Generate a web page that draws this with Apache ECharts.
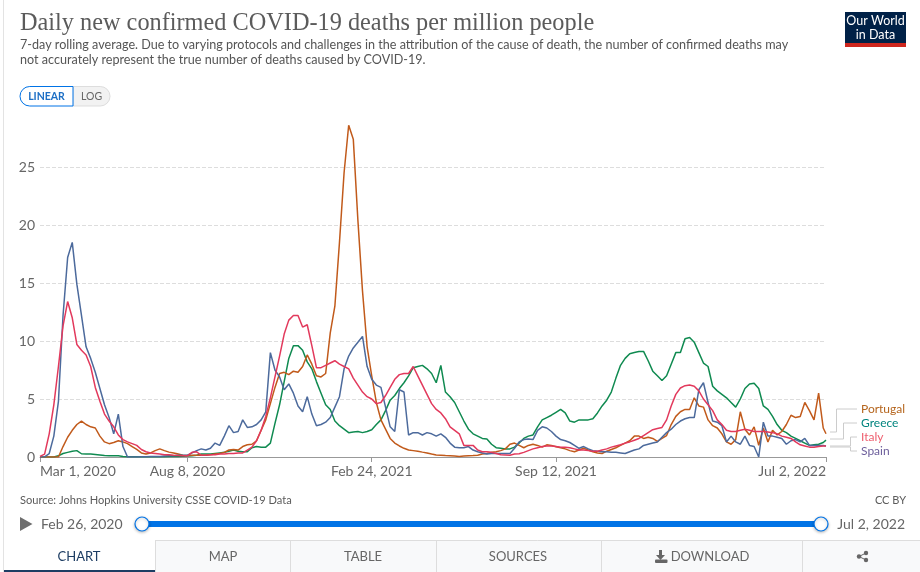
<!DOCTYPE html>
<html>
<head>
<meta charset="utf-8">
<title>Daily new confirmed COVID-19 deaths per million people</title>
<script src="https://cdn.jsdelivr.net/npm/echarts@6/dist/echarts.min.js"></script>
<style>
  html, body { margin: 0; padding: 0; background: #fff; }
  #chart { width: 920px; height: 572px; }
</style>
</head>
<body>
<div id="chart"></div>
<script>
// Values, one every 5 days from Mar 1 2020, the last one is Jul 2 2022
const stepDays = 5;
const lastDay = 853;

const greece = [
  0, 0, 0, 0, 0.1, 0.3, 0.4, 0.5, 0.55, 0.28,
  0.25, 0.25, 0.22, 0.18, 0.12, 0.1, 0.1, 0.1, 0.05, 0.02,
  0.02, 0.02, 0.02, 0.02, 0.02, 0.02, 0.03, 0.03, 0.05, 0.05,
  0.05, 0.06, 0.08, 0.1, 0.15, 0.25, 0.25, 0.25, 0.3, 0.35,
  0.4, 0.5, 0.6, 0.5, 0.45, 0.45, 0.8, 0.9, 0.85, 0.85,
  1.2, 2.9, 4.5, 6.5, 8.5, 9.6, 9.6, 9.2, 8.2, 7.6,
  6.5, 5.5, 4.5, 4.1, 3.1, 2.7, 2.4, 2.1, 2.15, 2.2,
  2.1, 2.2, 2.35, 2.8, 3.2, 4.0, 4.9, 5.3, 5.9, 6.4,
  7.0, 7.7, 7.8, 7.9, 7.6, 7.2, 6.4, 7.9, 5.6, 5.2,
  4.7, 3.9, 3.1, 2.4, 2.0, 1.8, 1.6, 1.55, 1.1, 0.8,
  0.75, 0.7, 0.7, 0.85, 1.2, 1.6, 1.8, 1.9, 2.6, 3.2,
  3.4, 3.6, 3.85, 4.1, 3.8, 3.1, 3.0, 3.2, 3.2, 3.2,
  3.3, 3.8, 4.4, 4.9, 5.6, 6.8, 7.9, 8.5, 8.9, 9.0,
  9.1, 9.1, 8.3, 7.4, 7.0, 6.6, 7.0, 8.0, 9.0, 9.0,
  10.2, 10.3, 9.9, 9.0, 8.1, 7.8, 6.1, 5.7, 5.4, 5.1,
  4.7, 4.3, 5.0, 5.9, 6.3, 6.35, 5.9, 4.4, 4.1, 3.5,
  2.8, 2.3, 2.1, 1.8, 1.6, 1.4, 1.2, 1.0, 1.05, 1.1,
  1.25, 1.45
];

const portugal = [
  0, 0, 0, 0, 0, 0.9, 1.7, 2.3, 2.8, 3.1,
  2.8, 2.6, 2.5, 1.8, 1.3, 1.15, 1.25, 1.4, 1.3, 1.15,
  0.9, 0.65, 0.35, 0.25, 0.35, 0.55, 0.7, 0.55, 0.42, 0.35,
  0.25, 0.15, 0.12, 0.15, 0.15, 0.15, 0.15, 0.2, 0.25, 0.3,
  0.4, 0.6, 0.65, 0.6, 0.9, 1.05, 1.1, 1.4, 2.3, 3.2,
  4.6, 6.0, 7.2, 7.3, 7.1, 7.4, 7.3, 7.8, 8.8, 8.0,
  7.0, 6.9, 7.2, 10.7, 13.0, 18.5, 24.5, 28.6, 27.4, 20.4,
  14.3, 9.5, 7.0, 4.7, 3.2, 2.4, 1.6, 1.2, 0.95, 0.75,
  0.6, 0.55, 0.5, 0.42, 0.35, 0.25, 0.18, 0.15, 0.12, 0.1,
  0.08, 0.05, 0.08, 0.1, 0.12, 0.15, 0.25, 0.3, 0.4, 0.45,
  0.55, 0.7, 1.1, 1.2, 1.0, 0.8, 1.0, 1.1, 1.0, 0.85,
  1.05, 1.0, 0.88, 0.8, 0.7, 0.55, 0.45, 0.6, 0.75, 0.6,
  0.45, 0.35, 0.3, 0.5, 0.65, 0.8, 1.0, 1.2, 1.4, 1.8,
  1.8, 1.6, 1.7, 1.6, 1.35, 1.6, 1.85, 2.8, 3.5, 3.9,
  4.1, 4.1, 5.1, 4.4, 4.3, 3.2, 2.7, 2.5, 2.0, 1.3,
  1.1, 1.5, 3.9, 2.4, 1.9, 2.6, 1.0, 2.5, 1.3, 2.3,
  1.9, 2.2, 2.8, 3.6, 3.4, 3.5, 4.7, 4.0, 3.2, 5.5,
  2.5, 2.0
];

const spain = [
  0, 0.02, 0.3, 1.8, 4.8, 12.2, 17.2, 18.5, 14.9, 12.2,
  9.5, 8.5, 7.3, 5.9, 4.5, 3.4, 2.0, 3.7, 0.9, 0,
  0, 0, 0.02, 0.03, 0.05, 0.05, 0.05, 0.08, 0.1, 0.1,
  0.15, 0.15, 0.15, 0.35, 0.55, 0.7, 0.6, 0.75, 1.2, 1.0,
  1.8, 2.7, 2.1, 2.2, 3.2, 2.55, 2.6, 2.8, 3.2, 3.9,
  9.0, 7.5, 6.9, 5.8, 6.3, 5.5, 4.4, 3.9, 5.2, 3.7,
  2.7, 2.8, 3.0, 3.4, 4.3, 5.2, 7.6, 8.7, 9.4, 9.9,
  10.4, 7.8, 6.7, 6.2, 6.0, 4.3, 2.6, 2.2, 5.8, 5.6,
  1.9, 2.1, 2.1, 1.9, 2.1, 2.0, 1.8, 2.0, 1.7, 1.2,
  0.85, 0.8, 0.8, 0.9, 0.6, 0.45, 0.35, 0.25, 0.3, 0.3,
  0.3, 0.3, 0.3, 0.75, 1.3, 1.5, 1.55, 1.5, 2.3, 2.6,
  2.5, 2.2, 1.8, 1.5, 1.4, 1.25, 1.0, 0.75, 0.9, 0.7,
  0.55, 0.5, 0.45, 0.45, 0.4, 0.4, 0.35, 0.3, 0.45, 0.6,
  0.7, 1.0, 1.1, 1.2, 1.3, 1.7, 2.1, 2.4, 2.8, 3.1,
  3.3, 3.4, 3.4, 5.8, 6.4, 4.7, 3.1, 3.0, 2.7, 1.3,
  1.8, 1.3, 1.1, 1.8, 1.0, 0.9, 0, 3.0, 1.8, 1.8,
  1.7, 1.6, 1.1, 1.4, 1.5, 1.3, 1.6, 1.0, 1.0, 1.0,
  1.0, 0.95
];

const italy = [
  0.05, 0.25, 2.0, 4.5, 7.8, 11.3, 13.4, 12.0, 9.7, 9.2,
  8.8, 7.8, 6.0, 4.8, 3.7, 3.1, 2.6, 1.9, 1.5, 1.3,
  1.15, 1.0, 0.65, 0.45, 0.35, 0.3, 0.25, 0.2, 0.2, 0.15,
  0.12, 0.1, 0.1, 0.4, 0.45, 0.15, 0.15, 0.2, 0.2, 0.25,
  0.25, 0.3, 0.3, 0.35, 0.35, 0.6, 0.85, 1.4, 2.3, 3.5,
  5.1, 6.9, 8.7, 10.6, 11.8, 12.2, 12.2, 11.2, 11.4, 9.6,
  7.7, 7.7, 7.9, 8.1, 8.3, 8.0, 7.8, 7.6, 6.8, 6.2,
  5.6, 5.2, 5.0, 4.6, 4.7, 5.3, 6.0, 6.7, 7.1, 7.2,
  7.2, 7.8, 7.0, 6.2, 5.4, 4.6, 4.1, 3.8, 3.3, 2.6,
  2.3, 2.0, 1.0, 1.0, 1.0, 0.6, 0.45, 0.45, 0.4, 0.3,
  0.2, 0.18, 0.15, 0.25, 0.28, 0.4, 0.55, 0.7, 0.8, 0.9,
  0.95, 0.95, 0.9, 0.85, 0.85, 0.8, 0.7, 0.6, 0.6, 0.55,
  0.5, 0.5, 0.6, 0.7, 0.85, 0.95, 1.05, 1.2, 1.3, 1.45,
  1.6, 1.85, 2.1, 2.35, 2.45, 2.55, 3.2, 4.4, 5.4, 5.95,
  6.15, 6.2, 6.1, 5.7, 5.0, 4.5, 4.0, 3.2, 2.8, 2.3,
  2.2, 2.2, 2.3, 2.4, 2.3, 2.2, 2.2, 2.2, 2.15, 2.1,
  2.0, 1.8, 1.7, 1.6, 1.3, 1.05, 0.95, 0.85, 0.85, 0.9,
  0.95, 0.95
];

// x axis counts days since Mar 1 2020
const xTickDays = [0, 160, 360, 560, 853];
const xTickLabels = ['Mar 1, 2020', 'Aug 8, 2020', 'Feb 24, 2021', 'Sep 12, 2021', 'Jul 2, 2022'];

const seriesNames = ['Greece', 'Portugal', 'Spain', 'Italy'];
const seriesValues = [greece, portugal, spain, italy];
const lineColors = ['#0f8a50', '#c15a1b', '#4c6a9c', '#e2395c'];

const FONT = 'Lato, "Noto Sans", sans-serif';
const GREY = '#666666';
const BLUE = '#0073e6';

function makeData(values) {
  return values.map(function (v, i) {
    return [Math.min(i * stepDays, lastDay), v];
  });
}

// 图形辅助函数
function text(x, y, str, size, fill, extra) {
  return {
    type: 'text', silent: true,
    style: Object.assign({ x: x, y: y, text: str, font: size + 'px ' + FONT, fill: fill, textVerticalAlign: 'middle' }, extra || {})
  };
}
function rect(x, y, w, h, fill, extra) {
  return { type: 'rect', silent: true, shape: Object.assign({ x: x, y: y, width: w, height: h }, extra || {}), style: { fill: fill } };
}
function line(x1, y1, x2, y2, color, width) {
  return { type: 'line', silent: true, shape: { x1: x1, y1: y1, x2: x2, y2: y2 }, style: { stroke: color, lineWidth: width || 1 } };
}
function polyline(points, color) {
  return { type: 'polyline', silent: true, shape: { points: points }, style: { stroke: color, lineWidth: 1, fill: null } };
}
function knob(x, y) {
  return {
    type: 'circle', silent: true, shape: { cx: x, cy: y, r: 7 },
    style: { fill: '#fff', stroke: BLUE, lineWidth: 1.2, shadowBlur: 3, shadowColor: 'rgba(0,0,0,0.25)', shadowOffsetY: 1 }
  };
}

const graphics = [
  // left page border
  line(3.5, 0, 3.5, 572, '#e3e3e3', 1),

  // header
  text(20, 24, 'Daily new confirmed COVID-19 deaths per million people', 24.3, '#5b5b5b', { font: '24.3px "Liberation Serif", serif' }),
  text(20, 45, '7-day rolling average. Due to varying protocols and challenges in the attribution of the cause of death, the number of confirmed deaths may', 12.6, '#555'),
  text(20, 60, 'not accurately represent the true number of deaths caused by COVID-19.', 12.6, '#555'),

  // logo
  rect(845, 12, 61, 35, '#002147'),
  rect(845, 43, 61, 4, '#ce261e'),
  text(875.5, 21, 'Our World', 12.5, '#fff', { textAlign: 'center' }),
  text(875.5, 35, 'in Data', 12.5, '#fff', { textAlign: 'center' }),

  // linear / log switch
  {
    type: 'rect', silent: true,
    shape: { x: 73, y: 86.5, width: 37, height: 19.5, r: [0, 10, 10, 0] },
    style: { fill: '#f2f2f2', stroke: '#dddddd', lineWidth: 1 }
  },
  {
    type: 'rect', silent: true,
    shape: { x: 20, y: 86.5, width: 53, height: 19.5, r: [10, 0, 0, 10] },
    style: { fill: '#fff', stroke: BLUE, lineWidth: 1 }
  },
  text(46.5, 97, 'LINEAR', 10.5, '#1d6fc5', { textAlign: 'center', font: 'bold 10.5px ' + FONT }),
  text(91.5, 97, 'LOG', 10.5, GREY, { textAlign: 'center' }),

  // line labels
  polyline([[830, 432], [836.5, 432], [836.5, 409], [857, 409]], '#cccccc'),
  polyline([[830, 439], [843.5, 439], [843.5, 423], [857, 423]], '#cccccc'),
  polyline([[830, 446], [850.5, 446], [850.5, 437], [857, 437]], '#cccccc'),
  polyline([[830, 447], [850.5, 447], [850.5, 451], [857, 451]], '#cccccc'),
  text(861, 409, 'Portugal', 12, '#b5651d'),
  text(861, 423, 'Greece', 12, '#00847e'),
  text(861, 437, 'Italy', 12, '#ee5f6f'),
  text(861, 451, 'Spain', 12, '#6d5f9c'),

  // footer
  text(20, 500, 'Source: Johns Hopkins University CSSE COVID-19 Data', 11.1, '#5b5b5b'),
  text(906, 500, 'CC BY', 11, '#5b5b5b', { textAlign: 'right' }),

  // time slider
  { type: 'polygon', silent: true, shape: { points: [[20, 517], [32.5, 524], [20, 531]] }, style: { fill: '#6e6e6e' } },
  text(41, 524, 'Feb 26, 2020', 14, GREY),
  rect(142, 521, 679, 6, BLUE),
  knob(142, 524),
  knob(821, 524),
  text(905, 524, 'Jul 2, 2022', 14, GREY, { textAlign: 'right' }),

  // tabs
  rect(155, 540, 765, 32, '#f8f9fa'),
  line(155, 540.5, 920, 540.5, '#dddddd'),
  line(155.5, 540, 155.5, 572, '#dddddd'),
  line(290.5, 540, 290.5, 572, '#dddddd'),
  line(436.5, 540, 436.5, 572, '#dddddd'),
  line(601.5, 540, 601.5, 572, '#dddddd'),
  line(802.5, 540, 802.5, 572, '#dddddd'),
  rect(4, 570, 151, 2, '#1d3d63'),
  text(79, 557, 'CHART', 13, '#1d3d63', { textAlign: 'center' }),
  text(223, 557, 'MAP', 13, GREY, { textAlign: 'center' }),
  text(363, 557, 'TABLE', 13, GREY, { textAlign: 'center' }),
  text(518, 557, 'SOURCES', 13, GREY, { textAlign: 'center' }),
  text(710, 557, 'DOWNLOAD', 13, GREY, { textAlign: 'center' }),

  // download icon
  { type: 'polygon', silent: true, shape: { points: [[659, 550], [662, 550], [662, 555], [665, 555], [660.5, 560], [656, 555], [659, 555]] }, style: { fill: GREY } },
  rect(655, 559.5, 12.5, 3.5, GREY, { r: 1 }),

  // share icon
  polyline([[866, 553], [859, 556.5], [866, 560]], GREY),
  { type: 'circle', silent: true, shape: { cx: 866, cy: 553, r: 2.2 }, style: { fill: GREY } },
  { type: 'circle', silent: true, shape: { cx: 859, cy: 556.5, r: 2.2 }, style: { fill: GREY } },
  { type: 'circle', silent: true, shape: { cx: 866, cy: 560, r: 2.2 }, style: { fill: GREY } }
];

const chart = echarts.init(document.getElementById('chart'), null, { renderer: 'canvas' });

chart.setOption({
  animation: false,
  backgroundColor: '#fff',
  grid: { left: 40, right: 94, top: 109, bottom: 115, containLabel: false },
  xAxis: {
    type: 'value',
    min: 0,
    max: lastDay,
    splitLine: { show: false },
    axisLine: { lineStyle: { color: '#999999', width: 1 } },
    axisTick: { show: true, length: 5, customValues: xTickDays, lineStyle: { color: '#999999' } },
    axisLabel: {
      customValues: xTickDays,
      fontFamily: FONT,
      fontSize: 14,
      color: GREY,
      margin: 7,
      hideOverlap: false,
      alignMinLabel: 'left',
      alignMaxLabel: 'right',
      formatter: function (value) {
        return xTickLabels[xTickDays.indexOf(value)];
      }
    }
  },
  yAxis: {
    type: 'value',
    min: 0,
    max: 30,
    interval: 5,
    axisLine: { show: false },
    axisTick: { show: false },
    axisLabel: { fontFamily: FONT, fontSize: 14, color: GREY, margin: 5, showMaxLabel: false },
    splitLine: { showMinLine: false, showMaxLine: false, lineStyle: { color: '#dddddd', type: 'dashed', width: 1 } }
  },
  series: seriesNames.map(function (name, i) {
    return {
      name: name,
      type: 'line',
      data: makeData(seriesValues[i]),
      showSymbol: false,
      smooth: false,
      lineStyle: { color: lineColors[i], width: 1.5 },
      itemStyle: { color: lineColors[i] },
      z: 2 + i
    };
  }),
  graphic: { elements: graphics }
});
</script>
</body>
</html>
